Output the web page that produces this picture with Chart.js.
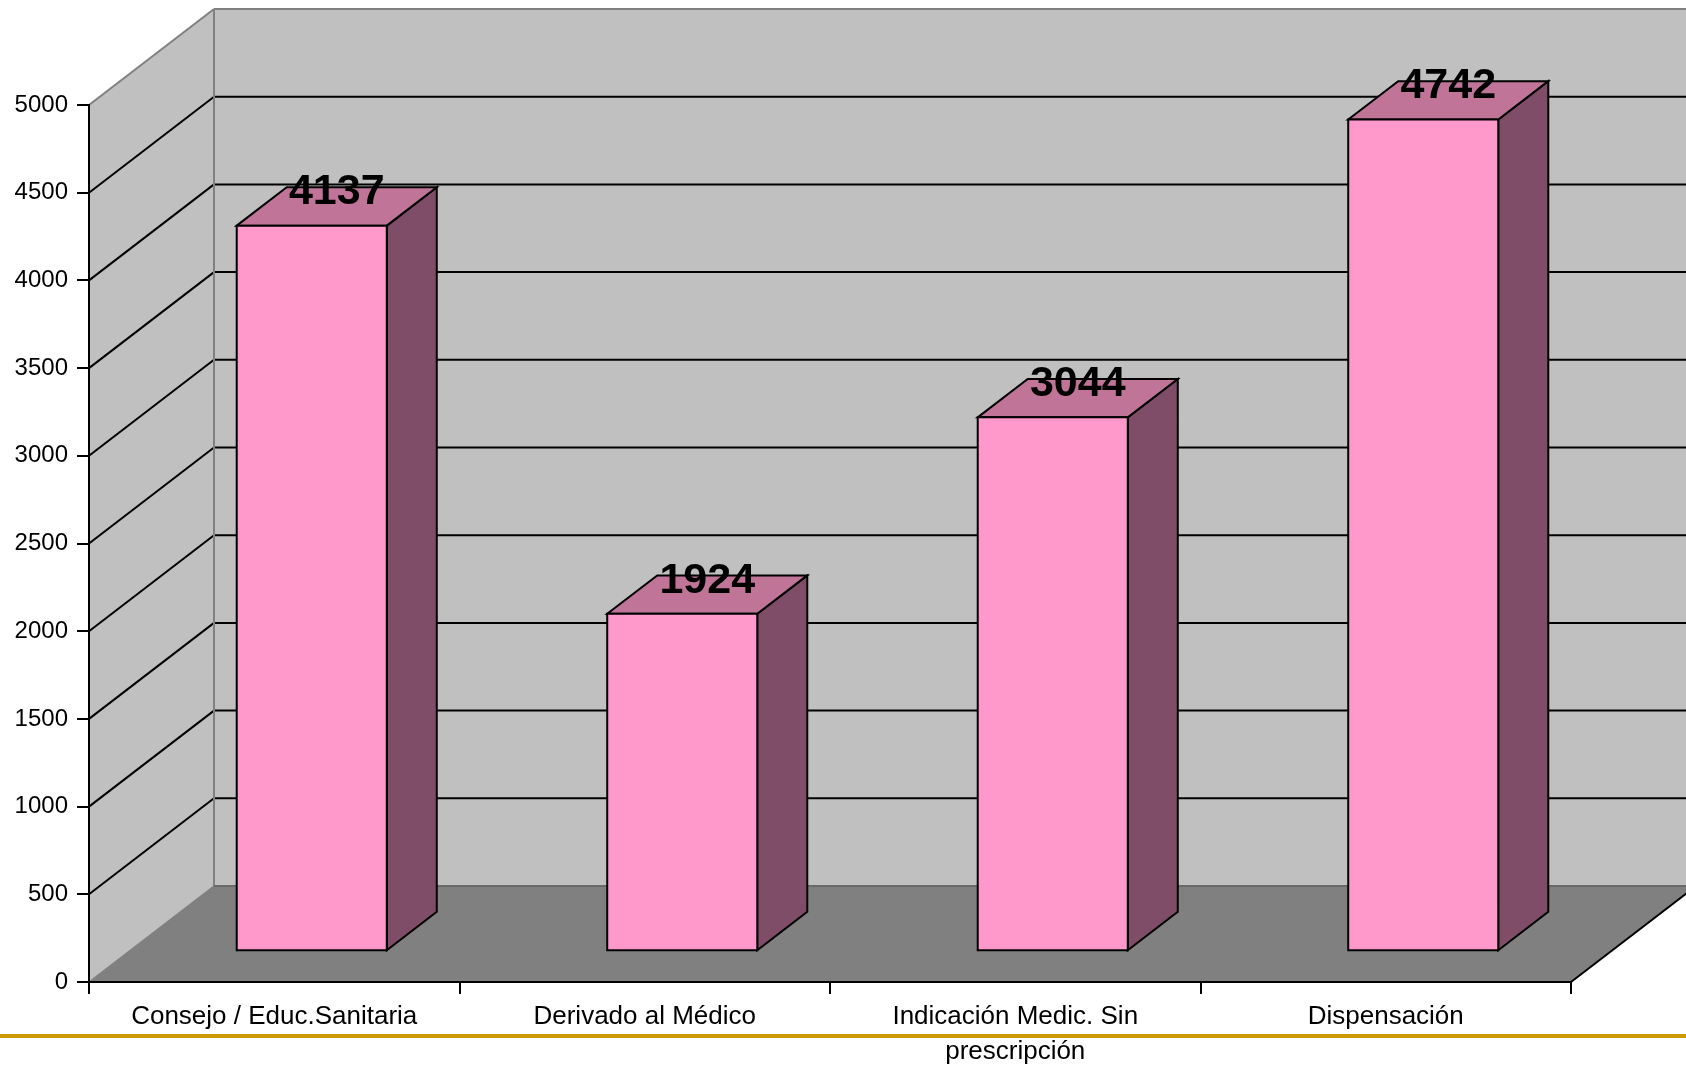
<!DOCTYPE html>
<html>
<head>
<meta charset="utf-8">
<script src="https://cdn.jsdelivr.net/npm/chart.js@4.4.1/dist/chart.umd.min.js"></script>
<style>
    html, body { margin: 0; padding: 0; background: #fff; }
    canvas { display: block; }
</style>
</head>
<body>
<canvas id="chart" width="1686" height="1067"></canvas>
<script>
const categories = [
    'Consejo / Educ.Sanitaria',
    'Derivado al Médico',
    ['Indicación Medic. Sin', 'prescripción'],
    'Dispensación',
];
const values = [4137, 1924, 3044, 4742];
const yTicks = { min: 0, max: 5000, step: 500 };

const FONT = '"Liberation Sans", Arial, sans-serif';

// depth of the 3d box (walls) and where the bars sit inside it
const depth = { dx: 125, dy: -96 };
const barFront = { x: 0.30, y: 0.32 };
const barDepth = 0.40;

const colors = {
    wall: '#c0c0c0',
    floor: '#808080',
    edge: '#808080',
    front: '#ff99cc',
    top: '#c07498',
    side: '#804d68',
    gold: '#cc9900',
};

function poly(ctx, pts, fill, stroke, lw) {
    ctx.beginPath();
    ctx.moveTo(pts[0][0], pts[0][1]);
    for (let i = 1; i < pts.length; i++) ctx.lineTo(pts[i][0], pts[i][1]);
    ctx.closePath();
    if (fill) { ctx.fillStyle = fill; ctx.fill(); }
    if (stroke) { ctx.strokeStyle = stroke; ctx.lineWidth = lw || 1; ctx.stroke(); }
}

function line(ctx, x1, y1, x2, y2, color, lw) {
    ctx.beginPath();
    ctx.moveTo(x1, y1);
    ctx.lineTo(x2, y2);
    ctx.strokeStyle = color;
    ctx.lineWidth = lw;
    ctx.stroke();
}

const box3d = {
    id: 'box3d',
    beforeDraw(chart) {
        const { ctx, chartArea: a, scales: { y } } = chart;
        const { dx, dy } = depth;
        const x0 = a.left, x1 = a.right;
        const yTop = y.getPixelForValue(yTicks.max);
        const yBot = y.getPixelForValue(yTicks.min);
        ctx.save();

        // slide decoration line
        ctx.fillStyle = colors.gold;
        ctx.fillRect(0, 1034, chart.width, 4);

        // back wall, left wall, floor
        poly(ctx, [[x0 + dx, yTop + dy], [x1 + dx, yTop + dy], [x1 + dx, yBot + dy], [x0 + dx, yBot + dy]], colors.wall);
        poly(ctx, [[x0, yTop], [x0 + dx, yTop + dy], [x0 + dx, yBot + dy], [x0, yBot]], colors.wall);
        poly(ctx, [[x0, yBot], [x1, yBot], [x1 + dx, yBot + dy], [x0 + dx, yBot + dy]], colors.floor);

        // grid lines on both walls
        for (let v = yTicks.min + yTicks.step; v < yTicks.max; v += yTicks.step) {
            const py = y.getPixelForValue(v);
            line(ctx, x0, py, x0 + dx, py + dy, '#000', 2);
            line(ctx, x0 + dx, py + dy, x1 + dx, py + dy, '#000', 2);
        }

        // outer edges
        line(ctx, x0, yTop, x0 + dx, yTop + dy, colors.edge, 2);
        line(ctx, x0 + dx, yTop + dy, x1 + dx, yTop + dy, colors.edge, 2);
        line(ctx, x0 + dx, yTop + dy, x0 + dx, yBot + dy, colors.edge, 2);
        line(ctx, x0, yBot, x0 + dx, yBot + dy, colors.edge, 1.5);
        line(ctx, x0 + dx, yBot + dy, x1 + dx, yBot + dy, '#6a6a6a', 2);
        line(ctx, x1, yBot, x1 + dx, yBot + dy, '#000', 2);
        ctx.restore();
    },
    afterDatasetsDraw(chart) {
        const { ctx } = chart;
        const meta = chart.getDatasetMeta(0);
        const ox = depth.dx * barFront.x, oy = depth.dy * barFront.y;
        const sx = depth.dx * barDepth, sy = depth.dy * barDepth;
        ctx.save();
        ctx.lineJoin = 'miter';
        const tops = [];
        meta.data.forEach((bar) => {
            const { x, y, base, width } = bar.getProps(['x', 'y', 'base', 'width'], true);
            const L = x - width / 2 + ox, R = x + width / 2 + ox;
            const T = y + oy, B = base + oy;
            poly(ctx, [[R, T], [R + sx, T + sy], [R + sx, B + sy], [R, B]], colors.side, '#000', 2);
            poly(ctx, [[L, T], [L + sx, T + sy], [R + sx, T + sy], [R, T]], colors.top, '#000', 2);
            poly(ctx, [[L, T], [R, T], [R, B], [L, B]], colors.front, '#000', 2);
            tops.push([x + ox + sx / 2, T + sy / 2]);
        });
        ctx.fillStyle = '#000';
        ctx.font = 'bold 43px ' + FONT;
        ctx.textAlign = 'center';
        ctx.textBaseline = 'alphabetic';
        tops.forEach((p, i) => {
            ctx.fillText(String(values[i]), p[0], p[1] - 2);
        });
        ctx.restore();
    },
};

const ctx = document.getElementById('chart').getContext('2d');
new Chart(ctx, {
    type: 'bar',
    data: {
        labels: categories,
        datasets: [{
            data: values,
            backgroundColor: 'rgba(0,0,0,0)',
            borderWidth: 0,
            categoryPercentage: 1,
            barPercentage: 0.405,
        }]
    },
    options: {
        responsive: false,
        animation: false,
        devicePixelRatio: 1,
        layout: { padding: { top: 105, right: 115, left: 0, bottom: 0 } },
        plugins: {
            legend: { display: false },
            tooltip: { enabled: false },
        },
        scales: {
            x: {
                offset: true,
                afterFit: (scale) => { scale.height = 85; },
                grid: { offset: true, drawOnChartArea: false, tickLength: 12, color: '#000', lineWidth: 2 },
                border: { color: '#000', width: 2 },
                ticks: {
                    color: '#000',
                    font: { family: FONT, size: 26, lineHeight: 1.32 },
                    padding: 6,
                    maxRotation: 0,
                    autoSkip: false,
                },
            },
            y: {
                min: yTicks.min,
                max: yTicks.max,
                afterFit: (scale) => { scale.width = 89; },
                grid: { drawOnChartArea: false, tickLength: 12, color: '#000', lineWidth: 2 },
                border: { color: '#000', width: 2 },
                ticks: {
                    stepSize: yTicks.step,
                    color: '#000',
                    font: { family: FONT, size: 24 },
                    padding: 9,
                    callback: (v) => String(v),
                },
            },
        },
    },
    plugins: [box3d],
});
</script>
</body>
</html>
